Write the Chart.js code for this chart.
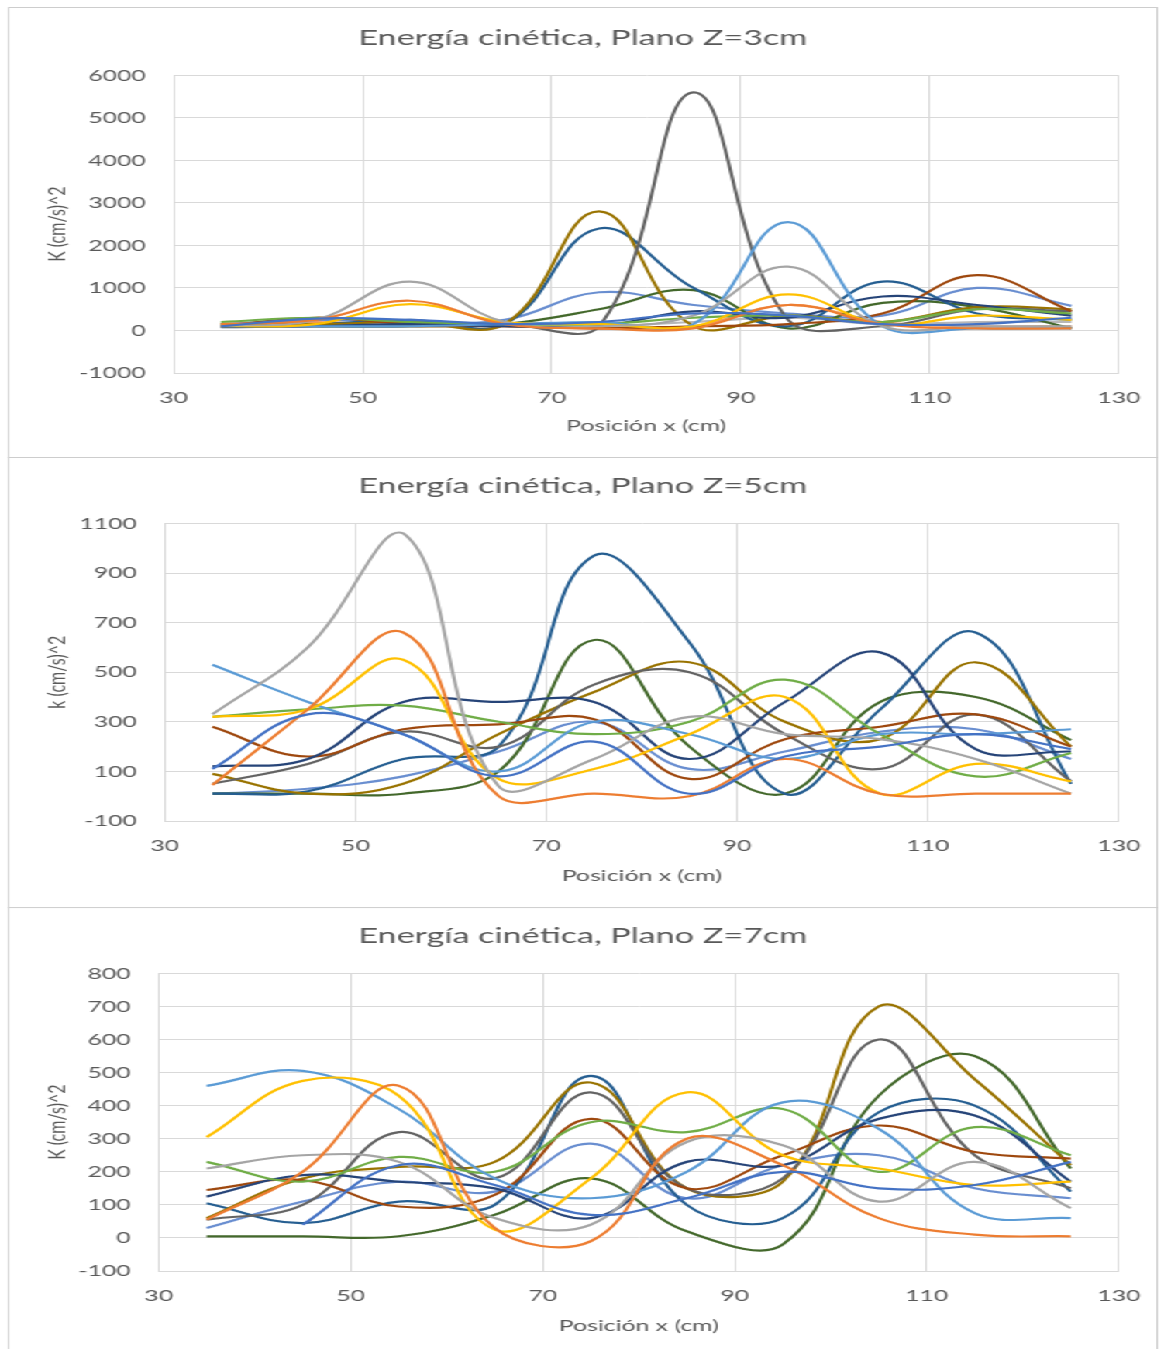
<!DOCTYPE html>
<html>
<head>
<meta charset="utf-8">
<title>Energía cinética</title>
<script src="https://cdn.jsdelivr.net/npm/chart.js@4.4.0/dist/chart.umd.min.js"></script>
<style>
  html, body { margin: 0; padding: 0; background: #fff; overflow: hidden; }
  /* charts are laid out narrow and widened by 1.55 on the x axis */
  #sheet { position: absolute; left: 0; top: 0; width: 750px; height: 1349px;
           transform: scaleX(1.55); transform-origin: 0 0; }
  .panel { position: absolute; left: 5.2px; width: 742px; height: 451px;
           box-sizing: border-box; border: 1px solid #cdcdcd; }
  .panel canvas { position: absolute; left: -1px; top: -1px; }
</style>
</head>
<body>
<div id="sheet">
  <div class="panel" style="top:7px"><canvas id="plane3" width="742" height="450"></canvas></div>
  <div class="panel" style="top:457px"><canvas id="plane5" width="742" height="450"></canvas></div>
  <div class="panel" style="top:907px"><canvas id="plane7" width="742" height="450"></canvas></div>
</div>
<script>
// positions along x (cm) where K was measured
const xPositions = [35, 45, 55, 65, 75, 85, 95, 105, 115, 125];
const xTicks = [30, 50, 70, 90, 110, 130];

// Office palette, one colour per measured line
const seriesColors = ['#4472C4', '#ED7D31', '#A5A5A5', '#FFC000', '#5B9BD5', '#70AD47', '#264478',
  '#9E480E', '#636363', '#997300', '#255E91', '#43682B', '#698ED0', '#F1975A', '#B7B7B7'];

// Z = 3 cm
const ticksZ3 = [-1000, 0, 1000, 2000, 3000, 4000, 5000, 6000];
const plane3 = [
  [100, 280, 250, 150, 200, 400, 350, 150, 150, 300],
  [150, 250, 700, 150, 50, 50, 600, 150, 50, 50],
  [100, 250, 1150, 200, 100, 350, 1500, 100, 100, 100],
  [100, 150, 620, 200, 150, 100, 850, 150, 350, 250],
  [100, 100, 100, 150, 200, 150, 2550, 100, 50, 50],
  [200, 300, 200, 150, 150, 300, 350, 200, 500, 400],
  [80, 100, 150, 100, 100, 450, 300, 800, 600, 350],
  [100, 300, 150, 100, 50, 100, 150, 400, 1300, 450],
  [100, 100, 100, 150, 100, 5600, 250, 100, 500, 450],
  [150, 150, 200, 150, 2800, 100, 350, 200, 550, 500],
  [100, 150, 250, 150, 2400, 1000, 100, 1150, 400, 250],
  [100, 100, 100, 150, 500, 950, 50, 650, 550, 50],
  [150, 250, 200, 250, 900, 600, 400, 350, 1000, 580],
  [100, 200, 100, 100, 50, 100, 600, 200, 100, 100],
  [100, 100, 100, 100, 100, 200, 300, 150, 200, 200]
];

// Z = 5 cm
const ticksZ5 = [-100, 100, 300, 500, 700, 900, 1100];
const plane5 = [
  [110, 330, 250, 80, 220, 10, 160, 200, 250, 190],
  [45, 350, 660, 0, 10, 0, 150, 10, 10, 10],
  [330, 600, 1060, 40, 150, 320, 250, 230, 150, 10],
  [320, 350, 550, 70, 110, 250, 400, 10, 130, 60],
  [530, 380, 250, 100, 300, 250, 150, 250, 250, 270],
  [320, 350, 365, 300, 250, 300, 470, 250, 80, 174],
  [120, 150, 380, 380, 380, 150, 380, 580, 190, 180],
  [280, 160, 270, 290, 310, 70, 230, 280, 330, 200],
  [50, 130, 260, 200, 450, 500, 250, 110, 330, 60],
  [90, 10, 50, 250, 420, 540, 300, 230, 540, 200],
  [10, 20, 150, 200, 970, 620, 10, 350, 660, 50],
  [10, 10, 10, 100, 630, 200, 10, 380, 400, 226],
  [10, 30, 80, 180, 300, 110, 180, 260, 270, 150]
];

// Z = 7 cm
const ticksZ7 = [-100, 0, 100, 200, 300, 400, 500, 600, 700, 800];
const plane7 = [
  [null, 40, 220, 160, 70, 120, 200, 150, 160, 230],
  [55, 200, 460, 30, -10, 300, 220, 60, 10, 5],
  [210, 250, 230, 60, 40, 290, 280, 110, 230, 90],
  [305, 475, 430, 25, 180, 440, 250, 210, 160, 170],
  [460, 505, 390, 180, 120, 200, 410, 330, 75, 60],
  [230, 170, 245, 200, 350, 320, 390, 200, 335, 250],
  [125, 190, 170, 150, 60, 230, 220, 360, 370, 170],
  [145, 175, 95, 130, 360, 150, 250, 340, 260, 240],
  [55, 100, 320, 180, 440, 150, 180, 600, 250, 150],
  [60, 180, 215, 230, 470, 150, 170, 700, 480, 220],
  [105, 45, 110, 100, 490, 100, 60, 380, 400, 140],
  [5, 5, 5, 70, 180, 20, -20, 430, 550, 210],
  [30, 110, 170, 140, 285, 120, 220, 250, 150, 120]
];

const textColor = '#595959';
const gridColor = '#d9d9d9';
const family = 'Lato, "Open Sans", sans-serif';

function drawPlane(id, title, yTitle, values, yTicks, box) {
  const datasets = values.map((vals, i) => ({
    data: xPositions.map((x, j) => ({ x: x, y: vals[j] })).filter(p => p.y !== null),
    borderColor: seriesColors[i % seriesColors.length],
    borderWidth: 2.2,
    pointRadius: 0,
    tension: 0.4,
    fill: false
  }));

  new Chart(document.getElementById(id), {
    type: 'line',
    data: { datasets: datasets },
    options: {
      responsive: false,
      animation: false,
      events: [],
      plugins: {
        legend: { display: false },
        tooltip: { enabled: false },
        title: {
          display: true,
          text: title,
          color: textColor,
          font: { family: family, size: 22, weight: 'normal' },
          padding: { top: box.titleTop, bottom: box.titleBottom }
        }
      },
      scales: {
        x: {
          type: 'linear',
          min: xTicks[0],
          max: xTicks[xTicks.length - 1],
          afterBuildTicks: s => { s.ticks = xTicks.map(v => ({ value: v })); },
          afterFit: s => {
            s.height = box.xHeight;
            // end labels fit in the side margins already
            s.paddingLeft = 0;
            s.paddingRight = 0;
          },
          grid: { color: gridColor, drawTicks: false },
          border: { color: gridColor },
          ticks: {
            padding: 15, color: textColor, maxRotation: 0, autoSkip: false,
            font: { family: family, size: 16 },
            callback: v => String(v)
          },
          title: {
            display: true, text: 'Posición x (cm)', color: textColor,
            font: { family: family, size: 16 },
            padding: { top: 0, bottom: 22 }
          }
        },
        y: {
          type: 'linear',
          min: yTicks[0],
          max: yTicks[yTicks.length - 1],
          afterBuildTicks: s => { s.ticks = yTicks.map(v => ({ value: v })); },
          afterFit: s => { s.width = box.yWidth; },
          grid: { color: gridColor, drawTicks: false },
          border: { color: gridColor },
          ticks: {
            padding: 18, color: textColor, autoSkip: false,
            font: { family: family, size: 16 },
            callback: v => String(v)
          },
          title: {
            display: true, text: yTitle, color: textColor,
            font: { family: family, size: 16 },
            padding: { top: 22.7, bottom: 0 }
          }
        },
        // empty strip on the right so the title stays centred on the whole panel
        gap: {
          position: 'right',
          grid: { display: false },
          border: { display: false },
          ticks: { display: false },
          afterFit: s => { s.width = box.right; }
        }
      }
    }
  });
}

drawPlane('plane3', 'Energía cinética, Plano Z=3cm', 'K (cm/s)^2', plane3, ticksZ3,
  { right: 25.2, yWidth: 107.1, xHeight: 84, titleTop: 18, titleBottom: 24 });
drawPlane('plane5', 'Energía cinética, Plano Z=5cm', 'k (cm/s)^2', plane5, ticksZ5,
  { right: 25.2, yWidth: 101.3, xHeight: 86, titleTop: 16, titleBottom: 24 });
drawPlane('plane7', 'Energía cinética, Plano Z=7cm', 'K (cm/s)^2', plane7, ticksZ7,
  { right: 25.2, yWidth: 97.4, xHeight: 86, titleTop: 16, titleBottom: 24 });
</script>
</body>
</html>
